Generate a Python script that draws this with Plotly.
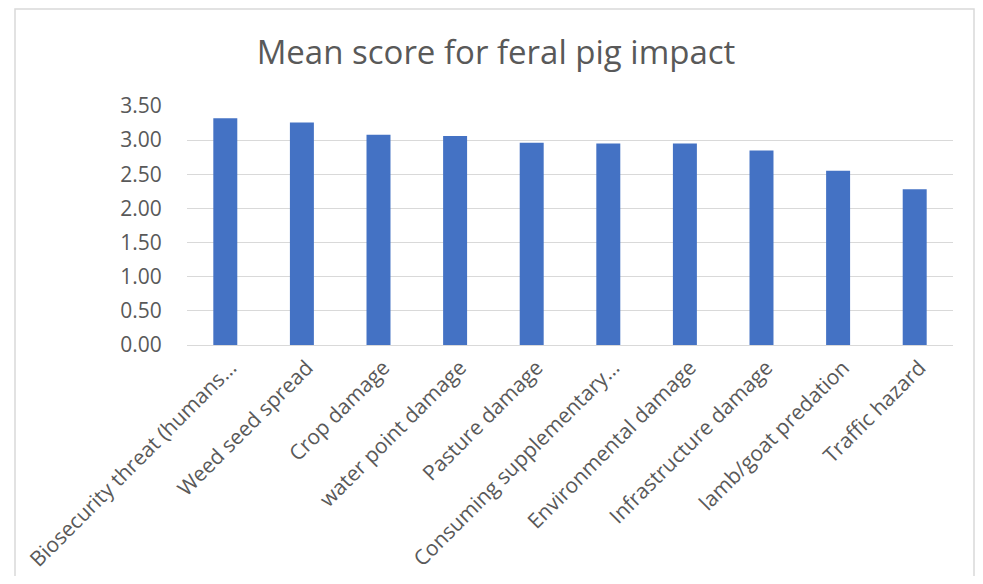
import plotly.graph_objects as go

categories = [
    "Biosecurity threat (humans…",
    "Weed seed spread",
    "Crop damage",
    "water point damage",
    "Pasture damage",
    "Consuming supplementary…",
    "Environmental damage",
    "Infrastructure damage",
    "lamb/goat predation",
    "Traffic hazard",
]
mean_scores = [3.32, 3.26, 3.08, 3.06, 2.96, 2.95, 2.95, 2.85, 2.55, 2.28]
y_ticks = [0.0, 0.5, 1.0, 1.5, 2.0, 2.5, 3.0, 3.5]

# page body has an 8px margin, so the figure is drawn offset by 8px
OFF = 8
W, H = 983 - OFF, 584 - 2 * OFF
L = 187 - OFF
R = W - (953 - OFF)
T = 106 - OFF
B = H - (345 - OFF)
pw, ph = W - L - R, H - T - B

def px_x(x):
    return (x - OFF - L) / pw

def px_y(y):
    return (H - B - (y - OFF)) / ph

fig = go.Figure(go.Bar(
    x=categories, y=mean_scores,
    marker=dict(color="#4472C4", line=dict(width=0)),
))

fig.update_layout(
    width=W, height=H,
    margin=dict(l=L, r=R, t=T, b=B, autoexpand=False),
    paper_bgcolor="white", plot_bgcolor="white",
    bargap=0.687,
    showlegend=False,
    font=dict(family="Open Sans", color="#595959"),
    title=dict(
        text="Mean score for feral pig impact",
        x=(496 - OFF) / W, xanchor="center", xref="container",
        y=1 - (52 - OFF) / H, yanchor="middle", yref="container",
        font=dict(size=33, color="#595959", family="Open Sans"),
    ),
    shapes=[dict(
        type="rect", xref="paper", yref="paper",
        x0=px_x(15), x1=px_x(974), y0=px_y(600), y1=px_y(OFF + 1),
        line=dict(color="#D9D9D9", width=1.5), fillcolor="rgba(0,0,0,0)",
        layer="below",
    )],
)

fig.update_yaxes(
    range=[0, 3.5], tickvals=y_ticks, tickformat=".2f",
    showgrid=True, gridcolor="#D9D9D9", gridwidth=1.3,
    zeroline=False, showline=False, automargin=False,
    ticks="outside", ticklen=20, tickcolor="rgba(0,0,0,0)",
    tickfont=dict(size=21, color="#595959"),
    fixedrange=True,
)
fig.update_xaxes(
    tickangle=-45, showline=True, linecolor="#D9D9D9", linewidth=1.3,
    showgrid=False, ticks="outside", ticklen=1, tickcolor="rgba(0,0,0,0)",
    ticklabelshift=5,
    tickfont=dict(size=21, color="#595959"), automargin=False,
    fixedrange=True,
)

fig.write_html("out.html")
